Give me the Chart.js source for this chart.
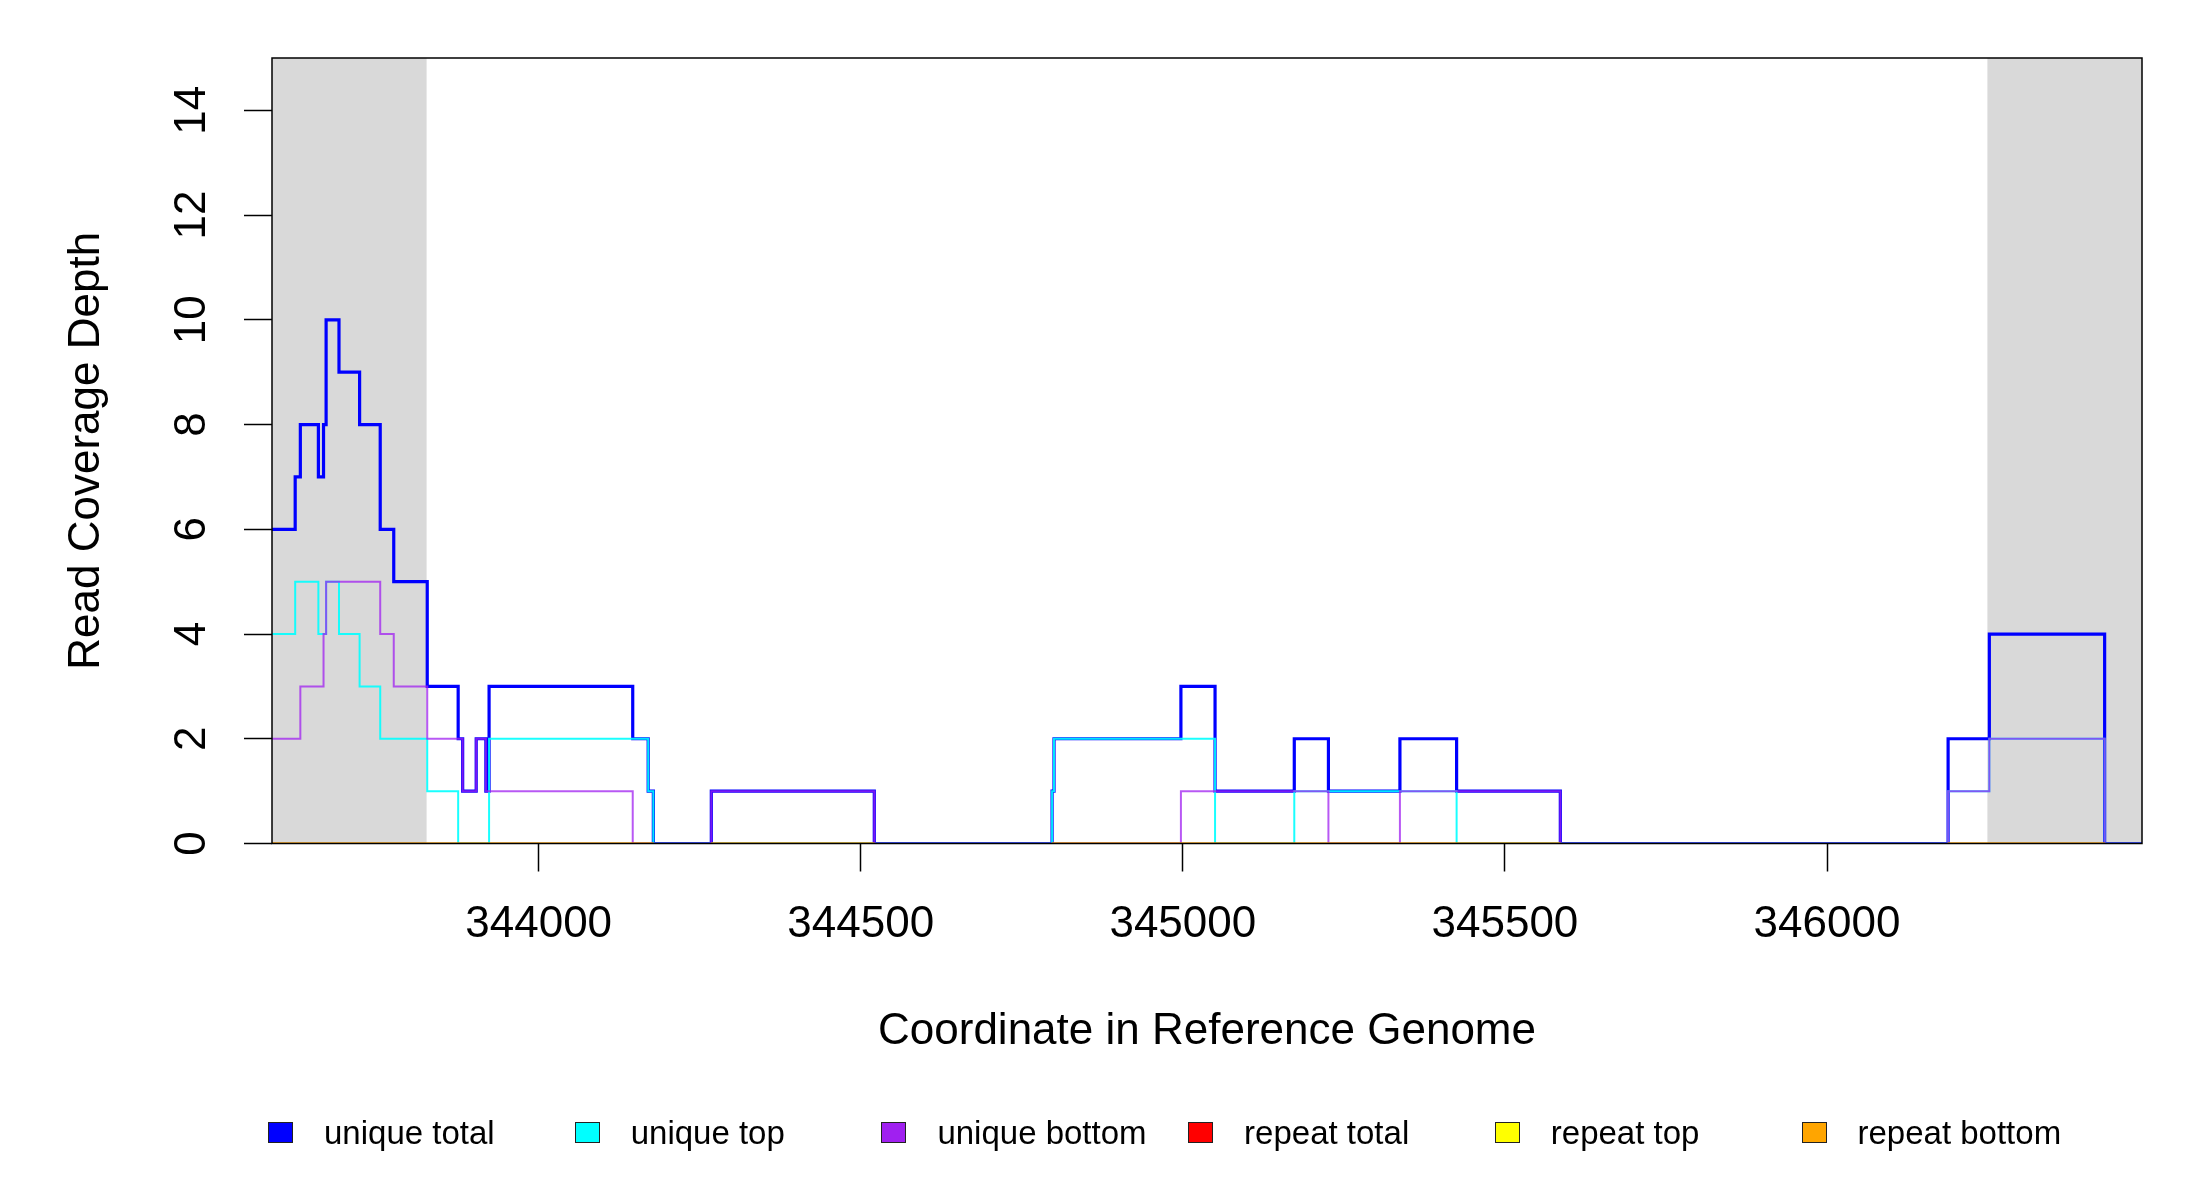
<!DOCTYPE html>
<html lang="en">
<head>
    <meta charset="UTF-8">
    <title>Read Coverage Depth</title>
    <style>
        body { margin: 0; background: #fff; }
        #wrap { position: relative; width: 2200px; height: 1200px; }
        #legend { position: absolute; left: 0; top: 1113.5px; width: 2200px; height: 38px;
                  font-family: "Liberation Sans", Arial, sans-serif; font-size: 33px; color: #000; }
        .item { position: absolute; top: 0; height: 38px; line-height: 38px; display: flex; align-items: center; white-space: nowrap; }
        .box { width: 25px; height: 21px; border: 1.5px solid #222; box-sizing: border-box; margin-right: 31px; }
    </style>
</head>
<body>
    <div id="wrap">
        <canvas id="coverage" width="2200" height="1200"></canvas>
        <div id="legend"></div>
    </div>
    <script src="https://cdn.jsdelivr.net/npm/chart.js"></script>
    <script>
        // step starts (bp); each value holds until the next start
        var stepStarts = [343586, 343622, 343630, 343658, 343666, 343670, 343690, 343722, 343754, 343775,
                          343827, 343875, 343882, 343903, 343918, 343923, 344146, 344170, 344178, 344268,
                          344521, 344797, 344800, 344997, 345050, 345173, 345226, 345337, 345425, 345586,
                          346188, 346252, 346431, 346489];
        var uniqueTotal  = [6, 7, 8, 7, 8, 10, 9, 8, 6, 5, 3, 2, 1, 2, 1, 3, 2, 1, 0, 1, 0, 1, 2, 3, 1, 2, 1, 2, 1, 0, 2, 4, 0, 0];
        var uniqueTop    = [4, 5, 5, 4, 4, 5, 4, 3, 2, 2, 1, 0, 0, 0, 0, 2, 2, 1, 0, 0, 0, 1, 2, 2, 0, 1, 1, 1, 0, 0, 1, 2, 0, 0];
        var uniqueBottom = [2, 2, 3, 3, 4, 5, 5, 5, 4, 3, 2, 2, 1, 2, 1, 1, 0, 0, 0, 1, 0, 0, 0, 1, 1, 1, 0, 1, 1, 0, 1, 2, 0, 0];

        // repeat reads: covered spans, all zero
        var repeatSpans  = [[343586, 344178], [344268, 344521], [344797, 345586], [346188, 346431]];
        var repeatTotal  = [0, 0, 0, 0];
        var repeatTop    = [0, 0, 0, 0];
        var repeatBottom = [0, 0, 0, 0];

        // grey flanking regions
        var flankSpans = [[343586, 343826], [346249, 346489]];

        var xRange = [343586, 346489];
        var yRange = [0, 15];
        var xTicks = [344000, 344500, 345000, 345500, 346000];
        var yTicks = [0, 2, 4, 6, 8, 10, 12, 14];

        var seriesNames = ['unique total', 'unique top', 'unique bottom', 'repeat total', 'repeat top', 'repeat bottom'];
        var legendColors = ['#0000FF', '#00FFFF', '#A020F0', '#FF0000', '#FFFF00', '#FFA500'];

        function stepData(vals) {
            return stepStarts.map(function (x, i) { return { x: x, y: vals[i] }; });
        }

        function spanData(vals) {
            var out = [];
            repeatSpans.forEach(function (s, i) {
                out.push({ x: s[0], y: vals[i] });
                out.push({ x: s[1], y: vals[i] });
                out.push({ x: s[1], y: null });
            });
            return out;
        }

        var font = { family: '"Liberation Sans", Arial, sans-serif', size: 44 };

        var flankPlugin = {
            id: 'flanks',
            beforeDatasetsDraw: function (chart) {
                var c = chart.ctx, a = chart.chartArea, xs = chart.scales.x;
                c.save();
                c.fillStyle = '#D9D9D9';
                flankSpans.forEach(function (s) {
                    var x0 = xs.getPixelForValue(s[0]), x1 = xs.getPixelForValue(s[1]);
                    c.fillRect(x0, a.top, x1 - x0, a.bottom - a.top);
                });
                c.restore();
            }
        };

        var boxPlugin = {
            id: 'frame',
            afterDatasetsDraw: function (chart) {
                var c = chart.ctx, a = chart.chartArea;
                c.save();
                c.strokeStyle = '#000';
                c.lineWidth = 1.5;
                c.strokeRect(a.left, a.top, a.right - a.left, a.bottom - a.top);
                c.restore();
            }
        };

        var datasets = [
            { label: seriesNames[0], data: stepData(uniqueTotal), borderColor: '#0000FF', borderWidth: 3.2, order: 6 },
            { label: seriesNames[1], data: stepData(uniqueTop), borderColor: 'rgba(0,255,255,0.9)', borderWidth: 2, order: 5 },
            { label: seriesNames[2], data: stepData(uniqueBottom), borderColor: 'rgba(160,32,240,0.75)', borderWidth: 2, order: 4 },
            { label: seriesNames[3], data: spanData(repeatTotal), borderColor: 'rgba(255,0,0,0.6)', borderWidth: 2, order: 3 },
            { label: seriesNames[4], data: spanData(repeatTop), borderColor: 'rgba(255,255,0,0.6)', borderWidth: 2, order: 2 },
            { label: seriesNames[5], data: spanData(repeatBottom), borderColor: 'rgba(255,165,0,0.8)', borderWidth: 2, order: 1 }
        ];
        datasets.forEach(function (d) {
            d.stepped = true;
            d.pointRadius = 0;
            d.fill = false;
            d.spanGaps = false;
        });

        var ctx = document.getElementById('coverage').getContext('2d');
        var chart = new Chart(ctx, {
            type: 'line',
            data: { datasets: datasets },
            options: {
                responsive: false,
                animation: false,
                devicePixelRatio: 1,
                layout: { padding: { top: 58, right: 58, left: 0, bottom: 0 } },
                plugins: { legend: { display: false }, tooltip: { enabled: false } },
                scales: {
                    x: {
                        type: 'linear',
                        min: xRange[0],
                        max: xRange[1],
                        afterBuildTicks: function (s) { s.ticks = xTicks.map(function (v) { return { value: v }; }); },
                        afterFit: function (s) { s.height = 356.5; },
                        border: { display: false },
                        grid: { drawOnChartArea: false, drawTicks: true, tickLength: 28, tickColor: '#000', tickWidth: 1.5 },
                        ticks: { color: '#000', font: font, padding: 27, maxRotation: 0, autoSkip: false,
                                 callback: function (v) { return String(v); } },
                        title: { display: true, text: 'Coordinate in Reference Genome', color: '#000', font: font,
                                 padding: { top: 0, bottom: 141.6 } }
                    },
                    y: {
                        min: yRange[0],
                        max: yRange[1],
                        afterBuildTicks: function (s) { s.ticks = yTicks.map(function (v) { return { value: v }; }); },
                        afterFit: function (s) { s.width = 272; },
                        border: { display: false },
                        grid: { drawOnChartArea: false, drawTicks: true, tickLength: 28, tickColor: '#000', tickWidth: 1.5 },
                        ticks: { color: '#000', font: font, padding: 26.5, minRotation: 90, maxRotation: 90,
                                 crossAlign: 'center', autoSkip: false },
                        title: { display: true, text: 'Read Coverage Depth', color: '#000', font: font,
                                 padding: { top: 60.6, bottom: 0 } }
                    }
                }
            },
            plugins: [flankPlugin, boxPlugin]
        });

        // legend laid out like the reference: fixed pitch, one row
        var legend = document.getElementById('legend');
        seriesNames.forEach(function (name, i) {
            var item = document.createElement('div');
            item.className = 'item';
            item.style.left = (268 + i * 306.7) + 'px';
            var box = document.createElement('span');
            box.className = 'box';
            box.style.background = legendColors[i];
            var txt = document.createElement('span');
            txt.textContent = name;
            item.appendChild(box);
            item.appendChild(txt);
            legend.appendChild(item);
        });
    </script>
</body>
</html>
